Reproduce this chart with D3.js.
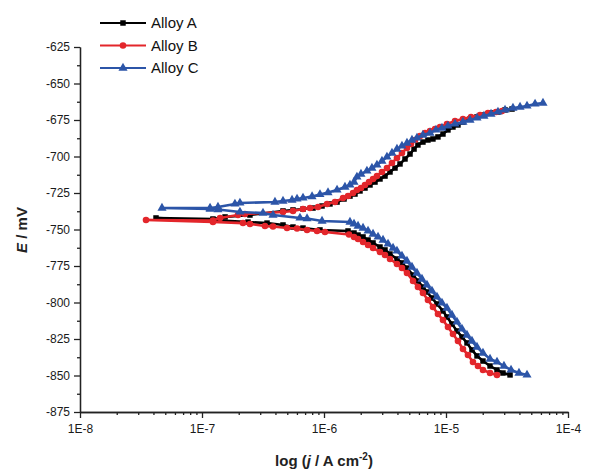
<!DOCTYPE html>
<html>
<head>
<meta charset="utf-8">
<script src="https://cdn.jsdelivr.net/npm/d3@7/dist/d3.min.js"></script>
<style>
  body { margin: 0; background: #fff; }
  svg { font-family: "Liberation Sans", Arial, sans-serif; }
</style>
</head>
<body>
<svg id="chart" width="592" height="471"></svg>
<script>
// Tafel data: [log10(j / A cm-2), E / mV]
// every branch starts at the corrosion potential
const seriesNames = ["Alloy A", "Alloy B", "Alloy C"];

const aCathodic = [
  [-7.377,-742.1],[-6.910,-743.5],[-6.623,-744.9],[-6.467,-745.6],[-6.336,-746.9],[-6.254,-748.3],
  [-6.172,-749.0],[-6.033,-750.3],[-5.803,-751.0],[-5.754,-752.4],[-5.721,-753.8],[-5.680,-755.1],
  [-5.639,-757.2],[-5.598,-759.2],[-5.541,-762.0],[-5.500,-764.0],[-5.459,-766.8],[-5.402,-770.2],
  [-5.361,-772.9],[-5.320,-776.4],[-5.270,-781.2],[-5.230,-785.3],[-5.189,-789.4],[-5.156,-792.8],
  [-5.115,-796.9],[-5.074,-801.0],[-5.025,-805.8],[-4.992,-809.9],[-4.951,-814.7],[-4.910,-819.5],
  [-4.869,-823.6],[-4.828,-827.7],[-4.787,-832.5],[-4.746,-836.6],[-4.697,-840.1],[-4.639,-843.5],
  [-4.582,-846.2],[-4.533,-848.3],[-4.475,-849.6]
];
const aAnodic = [
  [-7.377,-742.1],[-6.910,-742.8],[-6.811,-741.4],[-6.607,-740.1],[-6.336,-737.3],[-6.254,-736.6],
  [-6.172,-736.0],[-6.090,-735.3],[-6.016,-733.9],[-5.951,-732.5],[-5.893,-731.2],[-5.836,-729.1],
  [-5.787,-727.1],[-5.746,-725.7],[-5.705,-723.6],[-5.664,-721.6],[-5.623,-719.5],[-5.582,-717.5],
  [-5.541,-715.4],[-5.500,-713.4],[-5.459,-710.6],[-5.418,-707.9],[-5.377,-705.1],[-5.336,-701.7],
  [-5.295,-698.3],[-5.262,-694.9],[-5.230,-692.1],[-5.189,-690.1],[-5.148,-688.7],[-5.107,-688.0],
  [-5.066,-686.6],[-5.025,-684.6],[-4.984,-681.8],[-4.943,-679.8],[-4.902,-678.4],[-4.861,-676.4],
  [-4.803,-674.3],[-4.746,-672.9],[-4.689,-671.6],[-4.631,-670.2],[-4.574,-669.5],[-4.516,-668.1],
  [-4.459,-667.5]
];

const bCathodic = [
  [-7.459,-743.5],[-6.910,-744.9],[-6.664,-745.6],[-6.607,-746.2],[-6.484,-747.6],[-6.418,-748.0],
  [-6.303,-749.0],[-6.221,-749.3],[-6.139,-750.3],[-6.057,-751.0],[-5.992,-751.7],[-5.795,-753.4],
  [-5.754,-755.1],[-5.721,-756.5],[-5.680,-758.6],[-5.639,-760.6],[-5.598,-762.7],[-5.541,-765.4],
  [-5.500,-767.5],[-5.459,-770.2],[-5.402,-773.6],[-5.361,-776.4],[-5.320,-779.8],[-5.270,-785.3],
  [-5.230,-789.4],[-5.189,-793.5],[-5.148,-798.3],[-5.107,-803.1],[-5.066,-807.9],[-5.025,-812.0],
  [-4.984,-816.8],[-4.943,-821.6],[-4.902,-826.4],[-4.861,-831.8],[-4.820,-836.0],[-4.779,-840.7],
  [-4.738,-843.5],[-4.697,-846.2],[-4.639,-848.3],[-4.582,-849.6]
];
const bAnodic = [
  [-7.459,-743.5],[-6.910,-743.8],[-6.852,-742.1],[-6.705,-740.1],[-6.648,-739.4],[-6.336,-738.0],
  [-6.254,-737.3],[-6.172,-736.0],[-6.115,-735.3],[-6.049,-734.6],[-5.975,-732.5],[-5.910,-731.2],
  [-5.844,-728.4],[-5.803,-727.1],[-5.762,-725.0],[-5.730,-722.9],[-5.697,-721.6],[-5.664,-719.5],
  [-5.631,-717.5],[-5.598,-715.4],[-5.566,-713.4],[-5.525,-710.6],[-5.484,-707.9],[-5.443,-704.4],
  [-5.402,-701.0],[-5.361,-697.6],[-5.320,-694.2],[-5.287,-691.4],[-5.254,-688.7],[-5.213,-686.0],
  [-5.172,-683.9],[-5.131,-682.5],[-5.090,-681.2],[-5.049,-679.8],[-4.992,-677.7],[-4.926,-675.7],
  [-4.861,-674.3],[-4.795,-672.9],[-4.721,-671.6],[-4.656,-670.2],[-4.590,-669.5],[-4.541,-668.8]
];

const cCathodic = [
  [-7.328,-735.3],[-6.934,-736.0],[-6.869,-736.3],[-6.689,-738.0],[-6.500,-738.7],[-6.418,-740.1],
  [-6.197,-742.1],[-6.139,-742.5],[-6.016,-744.2],[-5.787,-744.9],[-5.754,-746.2],[-5.721,-747.6],
  [-5.680,-749.0],[-5.639,-751.0],[-5.598,-753.1],[-5.557,-755.1],[-5.516,-757.2],[-5.475,-759.9],
  [-5.434,-762.7],[-5.402,-764.7],[-5.361,-768.1],[-5.320,-771.6],[-5.279,-775.7],[-5.238,-779.8],
  [-5.197,-783.9],[-5.156,-788.0],[-5.115,-792.1],[-5.074,-796.2],[-5.033,-800.3],[-4.992,-803.8],
  [-4.951,-808.6],[-4.910,-813.3],[-4.869,-818.1],[-4.828,-822.3],[-4.787,-826.4],[-4.746,-830.5],
  [-4.697,-834.6],[-4.639,-838.7],[-4.582,-840.7],[-4.525,-843.5],[-4.467,-846.2],[-4.402,-848.3],
  [-4.336,-849.6]
];
const cAnodic = [
  [-7.328,-735.3],[-6.934,-735.3],[-6.869,-734.6],[-6.730,-732.5],[-6.689,-731.8],[-6.402,-731.2],
  [-6.336,-730.5],[-6.262,-729.8],[-6.221,-729.1],[-6.172,-728.4],[-6.098,-727.4],[-6.033,-726.0],
  [-5.967,-724.7],[-5.893,-722.9],[-5.828,-720.9],[-5.787,-719.5],[-5.754,-717.5],[-5.730,-714.0],
  [-5.697,-712.0],[-5.648,-709.9],[-5.607,-707.9],[-5.566,-705.8],[-5.525,-703.1],[-5.484,-700.3],
  [-5.443,-697.6],[-5.402,-694.9],[-5.361,-692.8],[-5.320,-690.8],[-5.279,-688.7],[-5.238,-687.3],
  [-5.189,-685.3],[-5.131,-683.9],[-5.082,-681.8],[-5.033,-680.5],[-4.984,-679.1],[-4.926,-677.7],
  [-4.861,-676.4],[-4.803,-675.0],[-4.746,-673.6],[-4.689,-672.3],[-4.631,-670.9],[-4.574,-669.5],
  [-4.516,-668.1],[-4.451,-666.8],[-4.393,-666.1],[-4.336,-665.4],[-4.270,-664.0],[-4.205,-663.4]
];

const yTicks = [-625, -650, -675, -700, -725, -750, -775, -800, -825, -850, -875];
const yTickLabels = ["-625", "-650", "-675", "-700", "-725", "-750", "-775", "-800", "-825", "-850", "-875"];
const xTicks = [1e-8, 1e-7, 1e-6, 1e-5, 1e-4];
const xTickLabels = ["1E-8", "1E-7", "1E-6", "1E-5", "1E-4"];

const colors = ["#000000", "#e3262b", "#2c55a8"];
const symbols = [d3.symbolSquare, d3.symbolCircle, d3.symbolTriangle];
const symbolSizes = [30, 34, 36];

const svg = d3.select("#chart");
const margin = { top: 47, right: 24, bottom: 59, left: 80 };
const width = 592 - margin.left - margin.right;
const height = 471 - margin.top - margin.bottom;

const x = d3.scaleLog().domain([1e-8, 1e-4]).range([0, width]);
const y = d3.scaleLinear().domain([-875, -625]).range([height, 0]);

const g = svg.append("g").attr("transform", `translate(${margin.left},${margin.top})`);

// axes: major ticks with labels, minor ticks without
const xMinor = x.ticks().filter((d) => Math.abs(Math.log10(d) - Math.round(Math.log10(d))) > 1e-6);
const yMinor = yTicks.slice(1).map((d) => d + 12.5);

g.append("g").attr("class", "axis")
  .attr("transform", `translate(0,${height})`)
  .call(d3.axisBottom(x).tickValues(xMinor).tickSize(3).tickSizeOuter(0).tickFormat(""));
g.append("g").attr("class", "axis")
  .attr("transform", `translate(0,${height})`)
  .call(d3.axisBottom(x).tickValues(xTicks).tickSize(6).tickSizeOuter(0).tickPadding(6)
    .tickFormat((d, i) => xTickLabels[i]));

g.append("g").attr("class", "axis")
  .call(d3.axisLeft(y).tickValues(yMinor).tickSize(3).tickSizeOuter(0).tickFormat(""));
g.append("g").attr("class", "axis")
  .call(d3.axisLeft(y).tickValues(yTicks).tickSize(6).tickSizeOuter(0).tickPadding(4)
    .tickFormat((d, i) => yTickLabels[i]));

g.selectAll(".axis path, .axis line").attr("stroke", "#222").attr("stroke-width", 1.3);
g.selectAll(".axis text").attr("font-size", 12).attr("fill", "#1a1a1a");

// curves: cathodic branch back to Ecorr, then out along the anodic branch
const series = [
  { cathodic: aCathodic, anodic: aAnodic },
  { cathodic: bCathodic, anodic: bAnodic },
  { cathodic: cCathodic, anodic: cAnodic },
];

const line = d3.line()
  .x((d) => x(10 ** d[0]))
  .y((d) => y(d[1]));

series.forEach((s, i) => {
  const pts = s.cathodic.slice().reverse().concat(s.anodic.slice(1));
  g.append("path")
    .datum(pts)
    .attr("d", line)
    .attr("fill", "none")
    .attr("stroke", colors[i])
    .attr("stroke-width", 2.6);

  g.append("g").selectAll("path")
    .data(pts)
    .enter()
    .append("path")
    .attr("transform", (d) => `translate(${x(10 ** d[0])},${y(d[1])})`)
    .attr("d", d3.symbol().type(symbols[i]).size(symbolSizes[i]))
    .attr("fill", colors[i]);
});

// axis titles
const yTitle = svg.append("text")
  .attr("transform", "translate(27,230) rotate(-90)")
  .attr("text-anchor", "middle")
  .attr("font-size", 15)
  .attr("font-weight", "bold")
  .attr("fill", "#222");
yTitle.append("tspan").attr("font-style", "italic").text("E");
yTitle.append("tspan").text(" / mV");

const xTitle = svg.append("text")
  .attr("x", 324)
  .attr("y", 466)
  .attr("text-anchor", "middle")
  .attr("font-size", 15)
  .attr("font-weight", "bold")
  .attr("fill", "#222");
xTitle.append("tspan").text("log (");
xTitle.append("tspan").attr("font-style", "italic").text("j");
xTitle.append("tspan").text(" / A cm");
xTitle.append("tspan").attr("dy", -6).attr("font-size", 10).text("-2");
xTitle.append("tspan").attr("dy", 6).text(")");

// legend
const legend = svg.append("g").attr("transform", "translate(100,23)");
seriesNames.forEach((name, i) => {
  const row = legend.append("g").attr("transform", `translate(0,${i * 22.5})`);
  row.append("line")
    .attr("x1", 0).attr("x2", 46)
    .attr("stroke", colors[i])
    .attr("stroke-width", 2);
  row.append("path")
    .attr("transform", "translate(23,0)")
    .attr("d", d3.symbol().type(symbols[i]).size(symbolSizes[i]))
    .attr("fill", colors[i]);
  row.append("text")
    .attr("x", 51)
    .attr("y", 0)
    .attr("dy", "0.35em")
    .attr("font-size", 15)
    .attr("fill", "#111")
    .text(name);
});
</script>
</body>
</html>
